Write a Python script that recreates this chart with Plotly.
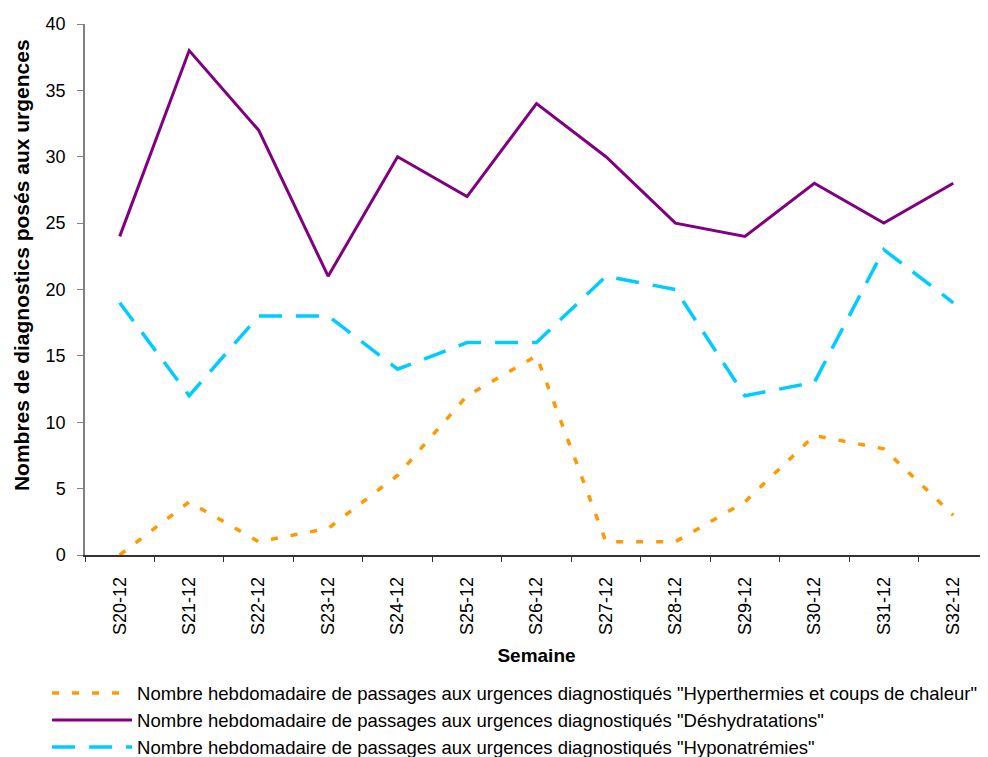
import plotly.graph_objects as go

weeks = ["S20-12", "S21-12", "S22-12", "S23-12", "S24-12", "S25-12", "S26-12",
         "S27-12", "S28-12", "S29-12", "S30-12", "S31-12", "S32-12"]
hyperthermies = [0, 4, 1, 2, 6, 12, 15, 1, 1, 4, 9, 8, 3]
deshydratations = [24, 38, 32, 21, 30, 27, 34, 30, 25, 24, 28, 25, 28]
hyponatremies = [19, 12, 18, 18, 14, 16, 16, 21, 20, 12, 13, 23, 19]

names = [
    'Nombre hebdomadaire de passages aux urgences diagnostiqués "Hyperthermies et coups de chaleur"',
    'Nombre hebdomadaire de passages aux urgences diagnostiqués "Déshydratations"',
    'Nombre hebdomadaire de passages aux urgences diagnostiqués "Hyponatrémies"',
]
y_title = "<b>Nombres de diagnostics posés aux urgences</b>"
x_title = "<b>Semaine</b>"

fig = go.Figure()
fig.add_trace(go.Scatter(x=weeks, y=hyperthermies, mode="lines", name=names[0],
                         line=dict(color="#FF9900", width=3.5, dash="7px,13px")))
fig.add_trace(go.Scatter(x=weeks, y=deshydratations, mode="lines", name=names[1],
                         line=dict(color="#800080", width=3)))
fig.add_trace(go.Scatter(x=weeks, y=hyponatremies, mode="lines", name=names[2],
                         line=dict(color="#00CCFF", width=3.5, dash="23px,14px")))

# page body has an 8px margin, so the figure is sized/offset to compensate
fig.update_layout(
    width=980, height=765,
    margin=dict(l=77, r=0, t=16, b=218),
    paper_bgcolor="white", plot_bgcolor="white",
    font=dict(family="Liberation Sans, Arial, sans-serif", size=18, color="black"),
    showlegend=True,
    legend=dict(x=-0.042, y=-0.225, xanchor="left", yanchor="top",
                font=dict(size=18.5), tracegroupgap=0, itemwidth=80,
                bgcolor="rgba(0,0,0,0)"),
    xaxis=dict(type="category", range=[-0.5, 12.5], tickson="boundaries",
               ticks="outside", ticklen=5, tickcolor="#333", showline=True,
               linecolor="#333", linewidth=1.5, tickangle=-90, showgrid=False,
               tickfont=dict(size=18), automargin=False, ticklabelstandoff=13,
               title=dict(text=x_title, font=dict(size=19), standoff=15)),
    yaxis=dict(range=[0, 40], dtick=5, ticks="outside", ticklen=6,
               tickcolor="#808080", showline=True, linecolor="#808080",
               linewidth=1.5, showgrid=False, zeroline=False,
               tickfont=dict(size=18), automargin=False, ticklabelstandoff=8),
    annotations=[dict(text=y_title, textangle=-90, xref="paper", yref="paper",
                      x=-0.0709, y=0.546, xanchor="center", yanchor="middle",
                      showarrow=False, borderpad=0, font=dict(size=21))],
)

fig.write_html("out.html")
